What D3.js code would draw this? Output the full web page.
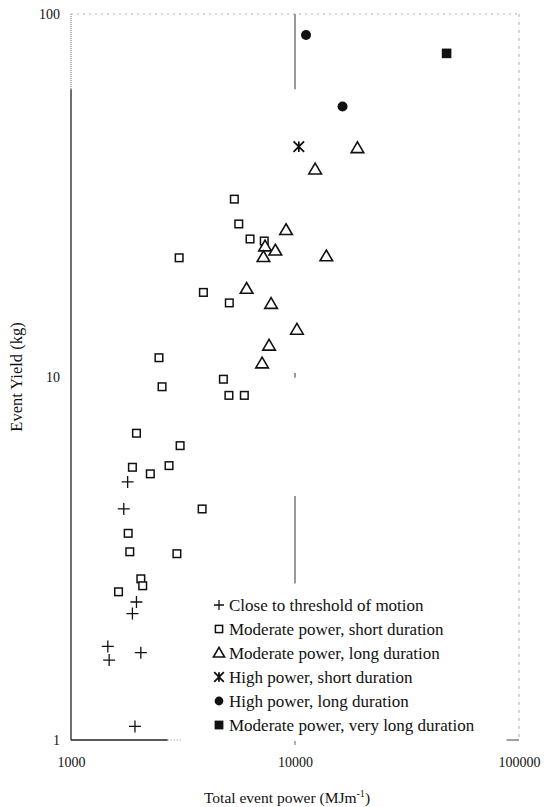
<!DOCTYPE html>
<meta charset="utf-8">
<style>
    body { margin: 0; background: #fff; }
    text {
        font-family: "Liberation Serif", "DejaVu Serif", serif;
        fill: #111;
    }
    .tick text { font-size: 14px; }
    .legend text { font-size: 17px; }
</style>

<svg width="544" height="807"></svg>

<script src="https://d3js.org/d3.v7.min.js"></script>

<script>

    // data (power in MJ/m, yield in kg)
    var thresholdPower = [1790, 1720, 1960, 1880, 1460, 1480, 2050, 1930];
    var thresholdYield = [5.14, 4.33, 2.40, 2.23, 1.81, 1.66, 1.74, 1.09];

    var modShortPower = [5360, 5610, 6300, 7290, 3040, 3900, 5090, 2470, 4790, 2550, 5070, 5940,
                         1960, 3070, 2740, 1880, 2260, 3850, 1800, 1830, 2970, 2050, 2090, 1630];
    var modShortYield = [30.9, 26.4, 24.0, 23.7, 21.3, 17.1, 16.0, 11.3, 9.86, 9.4, 8.9, 8.9,
                         7.0, 6.47, 5.70, 5.64, 5.41, 4.33, 3.71, 3.30, 3.26, 2.78, 2.66, 2.56];

    var modLongPower = [19000, 12300, 9120, 7350, 8170, 7230, 13800, 6080, 7820, 10200, 7660, 7130];
    var modLongYield = [42.7, 37.3, 25.4, 22.9, 22.3, 21.4, 21.5, 17.5, 15.9, 13.5, 12.2, 10.9];

    var highShortPower = [10400];
    var highShortYield = [43.1];

    var highLongPower = [11200, 16300];
    var highLongYield = [87.5, 55.6];

    var veryLongPower = [47500];
    var veryLongYield = [77.9];

    var xTicks = [1000, 10000, 100000];
    var yTicks = [1, 10, 100];

    var legendLabels = [
        "Close to threshold of motion",
        "Moderate power, short duration",
        "Moderate power, long duration",
        "High power, short duration",
        "High power, long duration",
        "Moderate power, very long duration"
    ];

    // pieces of the faint 10000 gridline still visible in the scan (yield ranges)
    var gridPieces = [[100, 62], [10.25, 9.95], [4.7, 2.7]];

    var svg = d3.select("svg");

    var x = d3.scaleLog().domain([1000, 100000]).range([71, 519]);
    var y = d3.scaleLog().domain([1, 100]).range([740, 14]);

    function zip(a, b) {
        return a.map(function (v, i) { return [v, b[i]]; });
    }

    // marker shapes, centred on 0,0
    var shapes = {
        plus: function (g, s) {
            g.append("path").attr("d", "M" + (-s) + ",0H" + s + "M0," + (-s) + "V" + s)
                .attr("stroke", "#111").attr("stroke-width", 1.3).attr("fill", "none");
        },
        square: function (g, s) {
            g.append("rect").attr("x", -s).attr("y", -s).attr("width", 2 * s).attr("height", 2 * s)
                .attr("fill", "#fff").attr("stroke", "#111").attr("stroke-width", 1.5);
        },
        triangle: function (g, s) {
            g.append("path").attr("d", "M0," + (-s * 1.05) + "L" + (s * 1.05) + "," + (s * 0.75) + "L" + (-s * 1.05) + "," + (s * 0.75) + "Z")
                .attr("fill", "#fff").attr("stroke", "#111").attr("stroke-width", 1.6);
        },
        asterisk: function (g, s) {
            g.append("path").attr("d", "M" + (-s) + "," + (-s) + "L" + s + "," + s + "M" + s + "," + (-s) + "L" + (-s) + "," + s + "M0," + (-s) + "V" + s)
                .attr("stroke", "#111").attr("stroke-width", 1.8).attr("fill", "none");
        },
        circle: function (g, s) {
            g.append("circle").attr("r", s).attr("fill", "#111");
        },
        filled: function (g, s) {
            g.append("rect").attr("x", -s).attr("y", -s).attr("width", 2 * s).attr("height", 2 * s)
                .attr("fill", "#111");
        }
    };

    var series = [
        {shape: "plus", size: 6, pts: zip(thresholdPower, thresholdYield), ls: 5},
        {shape: "square", size: 3.8, pts: zip(modShortPower, modShortYield), ls: 3.6},
        {shape: "triangle", size: 6, pts: zip(modLongPower, modLongYield), ls: 5.3},
        {shape: "asterisk", size: 5.3, pts: zip(highShortPower, highShortYield), ls: 4.8},
        {shape: "circle", size: 5, pts: zip(highLongPower, highLongYield), ls: 4.4},
        {shape: "filled", size: 4.8, pts: zip(veryLongPower, veryLongYield), ls: 4.4}
    ];

    // frame
    var frame = svg.append("g");
    frame.append("line")
        .attr("x1", x(1000)).attr("x2", x(1000)).attr("y1", y(100)).attr("y2", y(62))
        .attr("stroke", "#777").attr("stroke-dasharray", "1,1");
    frame.append("line")
        .attr("x1", x(1000)).attr("x2", x(1000)).attr("y1", y(62)).attr("y2", y(1))
        .attr("stroke", "#222").attr("stroke-width", 1.3);
    frame.append("line")
        .attr("x1", x(1000)).attr("x2", x(100000)).attr("y1", y(100)).attr("y2", y(100))
        .attr("stroke", "#aaa").attr("stroke-dasharray", "2,4");
    frame.append("line")
        .attr("x1", x(100000)).attr("x2", x(100000)).attr("y1", y(100)).attr("y2", y(1))
        .attr("stroke", "#aaa").attr("stroke-dasharray", "3,5");
    frame.append("line")
        .attr("x1", x(1000)).attr("x2", x(2700)).attr("y1", y(1)).attr("y2", y(1))
        .attr("stroke", "#222").attr("stroke-width", 1.3);
    frame.append("line")
        .attr("x1", x(2700)).attr("x2", x(3100)).attr("y1", y(1)).attr("y2", y(1))
        .attr("stroke", "#888").attr("stroke-dasharray", "1,2");
    frame.append("line")
        .attr("x1", x(88000)).attr("x2", x(100000)).attr("y1", y(1)).attr("y2", y(1))
        .attr("stroke", "#444");
    frame.append("line")
        .attr("x1", x(10000)).attr("x2", x(10000)).attr("y1", y(1) + 1).attr("y2", y(1) + 5)
        .attr("stroke", "#666");

    frame.selectAll(".grid")
        .data(gridPieces)
        .enter().append("line")
        .attr("x1", x(10000)).attr("x2", x(10000))
        .attr("y1", function (d) { return y(d[0]); })
        .attr("y2", function (d) { return y(d[1]); })
        .attr("stroke", "#555").attr("stroke-width", 1.2);

    // axes (labels only, frame drawn above)
    var xAxis = svg.append("g")
        .attr("transform", "translate(0," + y(1) + ")")
        .call(d3.axisBottom(x).tickValues(xTicks).tickFormat(d3.format("d")).tickSize(0).tickPadding(17));
    xAxis.select(".domain").remove();

    var yAxis = svg.append("g")
        .attr("transform", "translate(" + x(1000) + ",0)")
        .call(d3.axisLeft(y).tickValues(yTicks).tickFormat(d3.format("d")).tickSize(0).tickPadding(11));
    yAxis.select(".domain").remove();
    svg.selectAll(".tick text").attr("fill", "#111");

    var xTitle = svg.append("text")
        .attr("x", 287).attr("y", 803)
        .attr("text-anchor", "middle")
        .style("font-size", "15.5px")
        .text("Total event power (MJm");
    xTitle.append("tspan").attr("dy", -6).style("font-size", "10px").text("-1");
    xTitle.append("tspan").attr("dy", 6).text(")");

    svg.append("text")
        .attr("transform", "translate(22," + y(10) + ") rotate(-90)")
        .attr("text-anchor", "middle")
        .style("font-size", "16.5px")
        .text("Event Yield (kg)");

    // points
    series.forEach(function (s) {
        svg.append("g").selectAll("g")
            .data(s.pts)
            .enter().append("g")
            .attr("transform", function (d) { return "translate(" + x(d[0]) + "," + y(d[1]) + ")"; })
            .each(function () { shapes[s.shape](d3.select(this), s.size); });
    });

    // legend
    var legend = svg.append("g").attr("class", "legend")
        .attr("transform", "translate(219,605)");
    var row = legend.selectAll("g")
        .data(legendLabels)
        .enter().append("g")
        .attr("transform", function (d, i) { return "translate(0," + i * 24 + ")"; });
    row.each(function (d, i) {
        shapes[series[i].shape](d3.select(this), series[i].ls);
    });
    row.append("text")
        .attr("x", 10).attr("dy", "0.35em")
        .text(function (d) { return d; });

</script>
